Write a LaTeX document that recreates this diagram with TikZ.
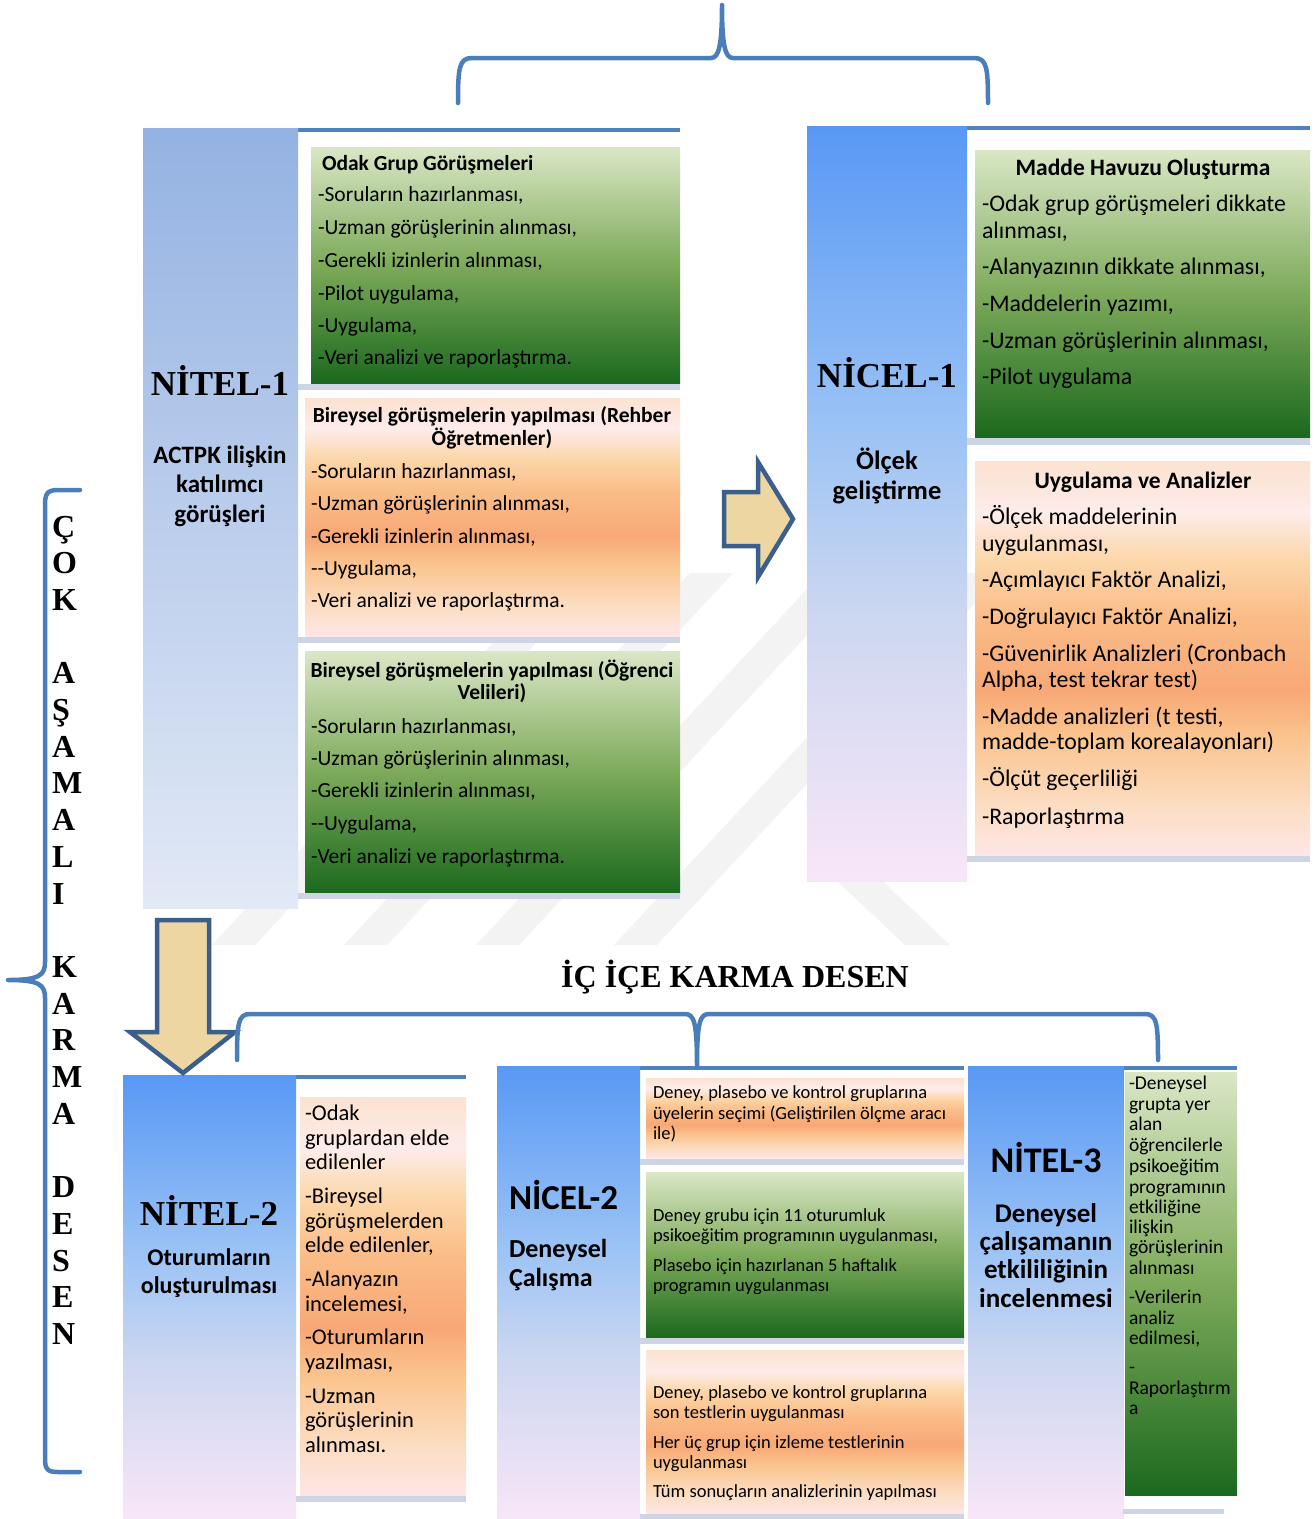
\documentclass[tikz,border=0pt]{standalone}
\usepackage{fontspec}
\usepackage{graphicx}
\setmainfont{Carlito}
\newfontfamily\tms{Liberation Serif}

% palette
\definecolor{bracecol}{RGB}{74,126,187}
\definecolor{toplinecol}{RGB}{79,129,189}
\definecolor{stripcol}{RGB}{205,212,228}
\definecolor{arrowline}{RGB}{58,95,140}
\definecolor{arrowfill}{RGB}{238,214,163}
\definecolor{wmark}{RGB}{243,243,243}
\definecolor{grnD}{RGB}{27,105,30}
\definecolor{grnM}{RGB}{125,170,90}
\definecolor{grnL}{RGB}{218,231,198}
\definecolor{orA}{RGB}{253,230,230}
\definecolor{orB}{RGB}{252,222,196}
\definecolor{orC}{RGB}{250,196,142}
\definecolor{orD}{RGB}{248,168,118}
\definecolor{orE}{RGB}{250,188,135}
\definecolor{orF}{RGB}{252,215,170}
\definecolor{orG}{RGB}{253,236,234}
\definecolor{orH}{RGB}{252,226,208}
\definecolor{cbA}{RGB}{248,230,248}
\definecolor{cbB}{RGB}{205,215,240}
\definecolor{cbC}{RGB}{155,195,245}
\definecolor{cbD}{RGB}{88,152,245}
\definecolor{cpA}{RGB}{226,233,246}
\definecolor{cpB}{RGB}{148,178,226}

% shadings: the filled area spans 25bp..75bp of each declaration
\pgfdeclareverticalshading{grn}{100bp}{color(0bp)=(grnD); color(25bp)=(grnD); color(50bp)=(grnM); color(75bp)=(grnL); color(100bp)=(grnL)}
\pgfdeclareverticalshading{org}{100bp}{color(0bp)=(orA); color(25bp)=(orA); color(31bp)=(orB); color(40bp)=(orC); color(46bp)=(orD); color(55bp)=(orE); color(62.5bp)=(orF); color(68.5bp)=(orG); color(75bp)=(orH); color(100bp)=(orH)}
\pgfdeclareverticalshading{colblue}{100bp}{color(0bp)=(cbA); color(25bp)=(cbA); color(42.5bp)=(cbB); color(55bp)=(cbC); color(75bp)=(cbD); color(100bp)=(cbD)}
\pgfdeclareverticalshading{colpale}{100bp}{color(0bp)=(cpA); color(25bp)=(cpA); color(75bp)=(cpB); color(100bp)=(cpB)}

% fonts
\newcommand\fBox{\fontsize{21.5}{26}\selectfont}
\newcommand\fBoxB{\fontsize{21.5}{26}\selectfont\bfseries}
\newcommand\fBig{\fontsize{23.8}{28}\selectfont}
\newcommand\fBigB{\fontsize{23.5}{28}\selectfont\bfseries}
\newcommand\fMid{\fontsize{22.5}{26}\selectfont}
\newcommand\fSm{\fontsize{18.5}{22}\selectfont}
\newcommand\fNar{\fontsize{19.5}{22}\selectfont}
\newcommand\fTimesBig{\tms\bfseries\fontsize{35}{40}\selectfont}
\newcommand\fVert{\tms\bfseries\fontsize{32}{36}\selectfont}

\tikzset{
  panelbase/.style={anchor=north west, inner sep=0pt, outer sep=0pt, draw=none},
  grnbox/.style={shading=grn},
  orgbox/.style={shading=org},
  colB/.style={shading=colblue},
  colP/.style={shading=colpale},
  strp/.style={fill=stripcol},
  topline/.style={draw=toplinecol, line width=4.5pt},
  bracestyle/.style={draw=bracecol, line width=4.5pt, line cap=round, line join=round},
  blockarrow/.style={draw=arrowline, fill=arrowfill, line width=4.5pt, line join=miter},
  tl/.style={anchor=base west, inner sep=0pt, outer sep=0pt},
  tc/.style={anchor=base, inner sep=0pt, outer sep=0pt, align=center},
}

% a rectangular panel given by its corners (x1,y1) and (x2,y2)
\newcommand\panel[6]{%
  \node[panelbase,#6,minimum width={#4-#2},minimum height={#5-#3}] (#1) at (#2,#3) {};}

% left aligned text lines: name, x, font, list of baseline/text
\newcommand\putlines[4]{%
  \foreach \yy/\tx [count=\k] in {#4}{\node[tl,font=#3] (#1-\k) at (#2,\yy) {\tx};}}

\begin{document}
\begin{tikzpicture}[x=1pt,y=-1pt]
\useasboundingbox[fill=white] (0,0) rectangle (1315,1519);

% faint background emblem
\fill[wmark] (212,945) -- (255,945) -- (601,573) -- (558,573) -- cycle;
\fill[wmark] (344,945) -- (387,945) -- (733,573) -- (690,573) -- cycle;
\fill[wmark] (476,945) -- (519,945) -- (865,573) -- (822,573) -- cycle;
\fill[wmark] (614,945) -- (657,945) -- (1003,573) -- (960,573) -- cycle;
\fill[wmark] (905,945) -- (950,945) -- (860,860) -- (815,860) -- cycle;

% ---------- NİTEL-1 ----------
\draw[topline] (298,130) -- (680,130);
\panel{n1col}{143}{128}{298}{908}{colP}
\panel{n1a}{311}{147}{680}{383}{grnbox}
\panel{n1as}{298}{384}{680}{390}{strp}
\panel{n1b}{305}{398}{680}{636}{orgbox}
\panel{n1bs}{298}{637}{680}{643}{strp}
\panel{n1c}{305}{651}{680}{893}{grnbox}
\panel{n1cs}{298}{893}{680}{899}{strp}

% ---------- NİCEL-1 ----------
\draw[topline] (967,128) -- (1310,128);
\panel{c1col}{807}{126}{967}{881}{colB}
\panel{c1a}{975}{150}{1310}{437}{grnbox}
\panel{c1as}{967}{438}{1310}{445}{strp}
\panel{c1b}{975}{461}{1310}{855}{orgbox}
\panel{c1bs}{967}{856}{1310}{862}{strp}

% ---------- NİTEL-2 ----------
\draw[topline] (296,1077) -- (466,1077);
\panel{n2col}{123}{1075}{296}{1519}{colB}
\panel{n2a}{300}{1097}{466}{1496}{orgbox}
\panel{n2as}{296}{1496}{466}{1502}{strp}

% ---------- NİCEL-2 ----------
\draw[topline] (640,1068) -- (964,1068);
\panel{c2col}{497}{1066}{640}{1519}{colB}
\panel{c2a}{646}{1078}{964}{1159}{orgbox}
\panel{c2as}{640}{1159}{964}{1165}{strp}
\panel{c2b}{646}{1172}{964}{1338}{grnbox}
\panel{c2bs}{640}{1338}{964}{1344}{strp}
\panel{c2c}{646}{1350}{964}{1514}{orgbox}
\panel{c2cs}{640}{1514}{964}{1519}{strp}

% ---------- NİTEL-3 ----------
\draw[topline] (1124,1068) -- (1237,1068);
\panel{n3col}{968}{1066}{1124}{1519}{colB}
\panel{n3a}{1125}{1072}{1237}{1495}{grnbox}
\panel{n3as}{1123}{1509}{1224}{1514}{strp}

% ---------- block arrows ----------
\coordinate (ra) at (724,492);
\draw[blockarrow] (ra) -- (758,492) -- (758,462) -- (793,519) -- (758,577) -- (758,546) -- (724,546) -- cycle;
\coordinate (da) at (157,920);
\draw[blockarrow] (da) -- (209,920) -- (209,1032) -- (235,1032) -- (183,1073) -- (130,1032) -- (157,1032) -- cycle;

% ---------- braces ----------
\coordinate (tbL) at (458,103);
\coordinate (tbT) at (722,5);
\coordinate (tbR) at (988,103);
\draw[bracestyle] (tbL) .. controls (458,68) and (459,58) .. (472,58) -- (711,58)
  .. controls (719,58) and (722,45) .. (tbT)
  .. controls (722,45) and (725,58) .. (733,58) -- (974,58)
  .. controls (987,58) and (988,68) .. (tbR);

\coordinate (bbL) at (237,1060);
\coordinate (bbT) at (697,1066);
\coordinate (bbR) at (1158,1060);
\draw[bracestyle] (bbL) .. controls (237,1024) and (238,1014) .. (250,1014) -- (685,1014)
  .. controls (694,1014) and (697,1022) .. (bbT)
  .. controls (697,1022) and (700,1014) .. (709,1014) -- (1145,1014)
  .. controls (1157,1014) and (1158,1024) .. (bbR);

\coordinate (lbT) at (80,490);
\coordinate (lbM) at (8,980);
\coordinate (lbB) at (80,1472);
\draw[bracestyle] (lbT) -- (58,490) .. controls (47,490) and (45,494) .. (45,505) -- (45,962)
  .. controls (45,975) and (40,980) .. (lbM)
  .. controls (40,980) and (45,985) .. (45,998) -- (45,1458)
  .. controls (45,1469) and (47,1472) .. (58,1472) -- (lbB);

% ---------- titles ----------
\node[tc,font=\tms\bfseries\fontsize{32}{36}\selectfont] (title) at (735,987) {İÇ İÇE KARMA DESEN};
\foreach \i/\ch in {0/Ç,1/O,2/K,4/A,5/Ş,6/A,7/M,8/A,9/L,10/I,12/K,13/A,14/R,15/M,16/A,18/D,19/E,20/S,21/E,22/N}
  \node[tl,font=\fVert] (v-\i) at (52,{537+36.7*\i}) {\ch};

% ---------- NİTEL-1 texts ----------
\node[tc,font=\fTimesBig] (n1t) at (220,395) {NİTEL-1};
\node[tc,font=\fontsize{25}{29}\selectfont\bfseries] (n1s1) at (220,463.5) {ACTPK ilişkin};
\node[tc,font=\fontsize{25}{29}\selectfont\bfseries] (n1s2) at (220,492.5) {katılımcı};
\node[tc,font=\fontsize{25}{29}\selectfont\bfseries] (n1s3) at (220,522.5) {görüşleri};

\node[tl,font=\fBoxB] (n1ah) at (322,170) {Odak Grup Görüşmeleri};
\putlines{n1al}{318}{\fBox}{201.5/{-Soruların hazırlanması,}, 234.5/{-Uzman görüşlerinin alınması,},
  267.5/{-Gerekli izinlerin alınması,}, 300.5/{-Pilot uygulama,}, 332.5/{-Uygulama,},
  364.5/{-Veri analizi ve raporlaştırma.}}

\node[tc,font=\fBoxB] (n1bh1) at (492,422) {Bireysel görüşmelerin yapılması (Rehber};
\node[tc,font=\fBoxB] (n1bh2) at (492,445) {Öğretmenler)};
\putlines{n1bl}{311}{\fBox}{478.5/{-Soruların hazırlanması,}, 510.5/{-Uzman görüşlerinin alınması,},
  543.5/{-Gerekli izinlerin alınması,}, 575.5/{-{}-Uygulama,}, 607.5/{-Veri analizi ve raporlaştırma.}}

\begin{scope}
\clip (305,651) rectangle (680,893);
\node[tc,font=\fBoxB] (n1ch1) at (492,677) {Bireysel görüşmelerin yapılması (Öğrenci};
\end{scope}
\node[tc,font=\fBoxB] (n1ch2) at (492,699) {Velileri)};
\putlines{n1cl}{311}{\fBox}{733.5/{-Soruların hazırlanması,}, 765.5/{-Uzman görüşlerinin alınması,},
  797.5/{-Gerekli izinlerin alınması,}, 830.5/{-{}-Uygulama,}, 863.5/{-Veri analizi ve raporlaştırma.}}

% ---------- NİCEL-1 texts ----------
\node[tc,font=\fTimesBig] (c1t) at (887,387) {NİCEL-1};
\node[tc,font=\fontsize{26.5}{30}\selectfont\bfseries] (c1s1) at (887,469) {Ölçek};
\node[tc,font=\fontsize{26.5}{30}\selectfont\bfseries] (c1s2) at (887,499) {geliştirme};

\node[tc,font=\fBigB] (c1ah) at (1143,175) {Madde Havuzu Oluşturma};
\putlines{c1al}{982}{\fBig}{211/{-Odak grup görüşmeleri dikkate}, 238/{alınması,},
  274/{-Alanyazının dikkate alınması,}, 311/{-Maddelerin yazımı,},
  348/{-Uzman görüşlerinin alınması,}, 384/{-Pilot uygulama}}

\node[tc,font=\fBigB] (c1bh) at (1143,488) {Uygulama ve Analizler};
\putlines{c1bl}{982}{\fBig}{524/{-Ölçek maddelerinin}, 551/{uygulanması,},
  587/{-Açımlayıcı Faktör Analizi,}, 624/{-Doğrulayıcı Faktör Analizi,},
  661/{-Güvenirlik Analizleri (Cronbach}, 687/{Alpha, test tekrar test)},
  724/{-Madde analizleri (t testi,}, 749/{madde-toplam korealayonları)},
  786/{-Ölçüt geçerliliği}, 824/{-Raporlaştırma}}

% ---------- NİTEL-2 texts ----------
\node[tc,font=\fTimesBig] (n2t) at (209,1225) {NİTEL-2};
\node[tc,font=\fontsize{24}{28}\selectfont\bfseries] (n2s1) at (209,1265) {Oturumların};
\node[tc,font=\fontsize{24}{28}\selectfont\bfseries] (n2s2) at (209,1293) {oluşturulması};
\putlines{n2al}{305}{\fMid}{1120/{-Odak}, 1145/{gruplardan elde}, 1169/{edilenler},
  1203/{-Bireysel}, 1228/{görüşmelerden}, 1252/{elde edilenler,},
  1286/{-Alanyazın}, 1311/{incelemesi,}, 1344/{-Oturumların}, 1369/{yazılması,},
  1403/{-Uzman}, 1427/{görüşlerinin}, 1452/{alınması.}}

% ---------- NİCEL-2 texts ----------
\node[tl,font=\fontsize{35}{40}\selectfont\bfseries] (c2t) at (509,1209) {NİCEL-2};
\node[tl,font=\fontsize{26}{30}\selectfont\bfseries] (c2s1) at (509,1257) {Deneysel};
\node[tl,font=\fontsize{26}{30}\selectfont\bfseries] (c2s2) at (509,1286) {Çalışma};
\putlines{c2al}{653}{\fSm}{1098.5/{Deney, plasebo ve kontrol gruplarına},
  1119.5/{üyelerin seçimi (Geliştirilen ölçme aracı}, 1139.5/{ile)}}
\putlines{c2bl}{653}{\fSm}{1221.5/{Deney grubu için 11 oturumluk},
  1241.5/{psikoeğitim programının uygulanması,}, 1271.5/{Plasebo için hazırlanan 5 haftalık},
  1291.5/{programın uygulanması}}
\putlines{c2cl}{653}{\fSm}{1398.5/{Deney, plasebo ve kontrol gruplarına},
  1418.5/{son testlerin uygulanması}, 1448.5/{Her üç grup için izleme testlerinin},
  1468.5/{uygulanması}, 1497.5/{Tüm sonuçların analizlerinin yapılması}}

% ---------- NİTEL-3 texts ----------
\node[tc,font=\fontsize{36}{40}\selectfont\bfseries] (n3t) at (1046,1172) {NİTEL-3};
\node[tc,font=\fontsize{27}{30}\selectfont\bfseries] (n3s1) at (1046,1222) {Deneysel};
\node[tc,font=\fontsize{27}{30}\selectfont\bfseries] (n3s2) at (1046,1250) {çalışamanın};
\node[tc,font=\fontsize{27}{30}\selectfont\bfseries] (n3s3) at (1046,1278) {etkililiğinin};
\node[tc,font=\fontsize{27}{30}\selectfont\bfseries] (n3s4) at (1046,1307) {incelenmesi};
\putlines{n3al}{1129}{\fNar}{1089/{-Deneysel}, 1110/{grupta yer}, 1130/{alan},
  1151/{öğrencilerle}, 1172/{psikoeğitim}, 1193/{programının}, 1213/{etkiliğine},
  1233/{ilişkin}, 1253/{görüşlerinin}, 1274/{alınması}, 1303/{-Verilerin},
  1324/{analiz}, 1344/{edilmesi,}, 1373/{-}, 1394/{Raporlaştırm}, 1414/{a}}

\end{tikzpicture}
\end{document}
